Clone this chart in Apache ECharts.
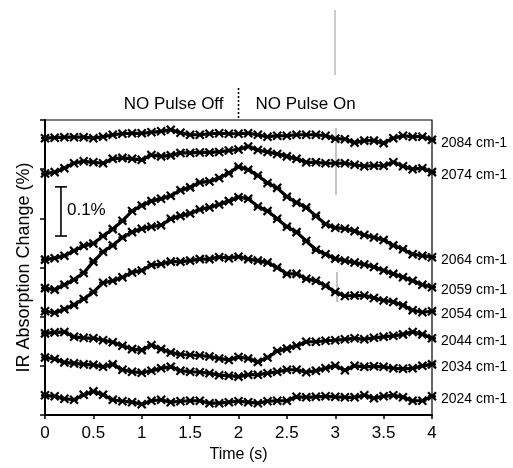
<!DOCTYPE html>
<html><head><meta charset="utf-8">
<script src="https://cdn.jsdelivr.net/npm/echarts@6/dist/echarts.min.js"></script>
<style>html,body{margin:0;padding:0;background:#fff}#c{width:513px;height:468px}</style>
</head><body><div id="c"></div>
<script>
// ---- data ----
const times = [0,0.1,0.2,0.3,0.4,0.5,0.6,0.7,0.8,0.9,1.0,1.1,1.2,1.3,1.4,1.5,1.6,1.7,1.8,1.9,2.0,
               2.1,2.2,2.3,2.4,2.5,2.6,2.7,2.8,2.9,3.0,3.1,3.2,3.3,3.4,3.5,3.6,3.7,3.8,3.9,4.0];
const xTicks = [0,0.5,1,1.5,2,2.5,3,3.5,4];
const seriesNames = ['2084 cm-1','2074 cm-1','2064 cm-1','2059 cm-1','2054 cm-1','2044 cm-1','2034 cm-1','2024 cm-1'];
const s2084 = [0.563,0.564,0.565,0.565,0.565,0.563,0.566,0.570,0.572,0.573,0.573,0.575,0.577,0.580,0.574,0.570,0.570,0.572,0.573,0.572,0.572,
               0.573,0.570,0.566,0.568,0.568,0.570,0.570,0.570,0.568,0.562,0.561,0.554,0.558,0.558,0.553,0.563,0.568,0.566,0.566,0.560];
const s2074 = [0.491,0.494,0.502,0.512,0.516,0.514,0.512,0.521,0.523,0.521,0.519,0.529,0.526,0.528,0.533,0.533,0.534,0.534,0.535,0.538,0.540,
               0.546,0.539,0.535,0.531,0.526,0.521,0.514,0.514,0.512,0.512,0.512,0.509,0.506,0.507,0.507,0.514,0.506,0.500,0.502,0.494];
const s2064 = [0.316,0.319,0.324,0.334,0.344,0.349,0.364,0.378,0.395,0.415,0.426,0.435,0.440,0.446,0.457,0.463,0.473,0.475,0.482,0.492,0.505,
               0.499,0.487,0.472,0.462,0.444,0.432,0.422,0.405,0.388,0.381,0.379,0.374,0.366,0.361,0.356,0.345,0.337,0.327,0.324,0.321];
const s2059 = [0.258,0.255,0.265,0.275,0.289,0.312,0.332,0.345,0.361,0.372,0.379,0.383,0.386,0.399,0.405,0.410,0.418,0.422,0.428,0.435,0.443,
               0.440,0.424,0.415,0.399,0.383,0.372,0.354,0.336,0.327,0.318,0.314,0.310,0.306,0.301,0.294,0.287,0.280,0.273,0.265,0.260];
const s2054 = [0.211,0.208,0.215,0.224,0.236,0.250,0.269,0.273,0.280,0.290,0.294,0.305,0.307,0.312,0.312,0.314,0.317,0.317,0.321,0.319,0.322,
               0.317,0.314,0.310,0.300,0.287,0.287,0.277,0.273,0.263,0.250,0.242,0.243,0.243,0.238,0.233,0.230,0.223,0.213,0.209,0.211];
const s2044 = [0.166,0.168,0.169,0.159,0.157,0.156,0.152,0.148,0.141,0.134,0.132,0.142,0.134,0.127,0.123,0.122,0.121,0.119,0.115,0.112,0.118,
               0.115,0.108,0.117,0.130,0.135,0.141,0.149,0.149,0.151,0.152,0.154,0.156,0.154,0.157,0.159,0.161,0.164,0.169,0.164,0.156];
const s2034 = [0.117,0.114,0.107,0.105,0.103,0.102,0.098,0.103,0.092,0.088,0.086,0.090,0.095,0.098,0.090,0.088,0.087,0.085,0.081,0.080,0.078,
               0.082,0.082,0.085,0.088,0.092,0.092,0.087,0.090,0.095,0.100,0.091,0.100,0.098,0.099,0.098,0.095,0.094,0.095,0.100,0.103];
const s2024 = [0.040,0.038,0.033,0.031,0.041,0.048,0.041,0.031,0.028,0.026,0.022,0.029,0.031,0.026,0.028,0.029,0.029,0.024,0.024,0.026,0.028,
               0.026,0.024,0.028,0.029,0.029,0.037,0.036,0.037,0.038,0.037,0.036,0.036,0.040,0.034,0.038,0.040,0.036,0.029,0.029,0.038];
const seriesValues = [s2084,s2074,s2064,s2059,s2054,s2044,s2034,s2024];
const scaleBarX = [0.165,0.165];
const scaleBarY = [0.364,0.464];
const scaleBarText = '0.1%';
const pulseSwitchTime = 2;
const pulseOffText = 'NO Pulse Off';
const pulseOnText = 'NO Pulse On';

// ---- chart ----
const FONT = '"Liberation Sans", Arial, sans-serif';
const chart = echarts.init(document.getElementById('c'), null, {renderer:'canvas'});
const xMark = 'path://M0,0L10,10M10,0L0,10M0,5L10,5';
const lineSeries = seriesNames.map((name,i)=>({
  name, type:'line',
  data: times.map((t,k)=>[t, seriesValues[i][k]]),
  symbol: xMark, symbolSize: 8, showSymbol:true,
  itemStyle:{color:'#000', borderColor:'#000', borderWidth:2.2},
  lineStyle:{color:'#000', width:3.2},
  endLabel:{show:true, formatter:'{a}', distance:9, offset:[0,3], color:'#000', fontSize:14, fontFamily:FONT},
  silent:true, z:3
}));
lineSeries.push({
  name:'scale', type:'line',
  data: scaleBarX.map((x,k)=>[x, scaleBarY[k]]),
  symbol:'rect', symbolSize:[12,1.6], itemStyle:{color:'#000'},
  lineStyle:{color:'#000', width:1.6}, silent:true, z:4
});
chart.setOption({
  animation:false,
  backgroundColor:'#fff',
  grid:{left:45, right:81, top:120, bottom:51, show:true, borderColor:'#000', borderWidth:1.2, backgroundColor:'transparent'},
  xAxis:{type:'value', min:0, max:4, interval:0.5,
    name:'Time (s)', nameLocation:'middle', nameGap:32,
    nameTextStyle:{color:'#000', fontSize:16, fontFamily:FONT},
    axisLine:{show:true, onZero:false, lineStyle:{color:'#000', width:2}},
    axisTick:{show:true, length:4, lineStyle:{color:'#000', width:1.5}},
    axisLabel:{color:'#000', fontSize:17, fontFamily:FONT, margin:10,
      formatter:v=>xTicks.includes(v)?String(v):''},
    splitLine:{show:false}},
  yAxis:{type:'value', min:0, max:0.6, interval:0.1,
    name:'IR Absorption Change (%)', nameLocation:'middle', nameGap:12,
    nameTextStyle:{color:'#000', fontSize:18, fontFamily:FONT},
    axisLine:{show:true, onZero:false, lineStyle:{color:'#000', width:2}},
    axisTick:{show:true, length:5, lineStyle:{color:'#000', width:1.5}},
    axisLabel:{show:false}, splitLine:{show:false}},
  series: lineSeries
});
const px = chart.convertToPixel({gridIndex:0}, [pulseSwitchTime, 0.6]);
const lbl = chart.convertToPixel({gridIndex:0}, [scaleBarX[0], (scaleBarY[0]+scaleBarY[1])/2]);
chart.setOption({graphic:[
  {type:'line', shape:{x1:px[0], y1:px[1]-32, x2:px[0], y2:px[1]}, style:{stroke:'#000', lineWidth:1.6, lineDash:[2,2]}},
  {type:'text', x:px[0]-15, y:px[1]-16, style:{text:pulseOffText, fill:'#000', font:'17px '+FONT, align:'right', verticalAlign:'middle'}},
  {type:'text', x:px[0]+17, y:px[1]-16, style:{text:pulseOnText, fill:'#000', font:'17px '+FONT, align:'left', verticalAlign:'middle'}},
  {type:'text', x:lbl[0]+6, y:lbl[1]-1, style:{text:scaleBarText, fill:'#000', font:'17px '+FONT, align:'left', verticalAlign:'middle'}},
  {type:'line', shape:{x1:335, y1:10, x2:335, y2:75}, style:{stroke:'#999', lineWidth:1}},
  {type:'line', shape:{x1:336, y1:128, x2:336, y2:195}, style:{stroke:'#888', lineWidth:1}},
  {type:'line', shape:{x1:337, y1:272, x2:337, y2:302}, style:{stroke:'#888', lineWidth:1}}
]});
</script></body></html>
